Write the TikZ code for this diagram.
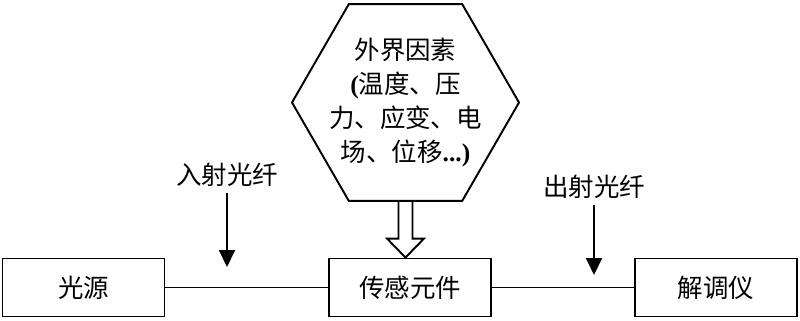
\documentclass[tikz,border=0pt]{standalone}
\usepackage{fontspec}
\setmainfont{Noto Sans CJK SC}
\newfontfamily\latfont{Liberation Serif}
\usepackage{tikz}
\usetikzlibrary{arrows.meta,positioning,calc,shapes.geometric}

\begin{document}
\begin{tikzpicture}[>=Stealth,
  every node/.style={font=\fontsize{14.5pt}{19.3pt}\selectfont},
  unit/.style={draw,line width=1.1pt,minimum width=3.24cm,minimum height=1.16cm,inner sep=0pt},
  fiber/.style={line width=1.1pt,-{Triangle[length=0.34cm,width=0.32cm]}},
  link/.style={line width=0.9pt},
  hollow/.style={line width=1.1pt,line join=miter}]
  \useasboundingbox (0,0) rectangle (16,6.4);
  \node[unit] (src) at (1.67,0.65) {光源};
  \node[unit] (sens) at (8.2,0.65) {传感元件};
  \node[unit] (demod) at (14.32,0.65) {解调仪};
  \node[draw,line width=1.1pt,regular polygon,regular polygon sides=6,minimum size=4.54cm,inner sep=0pt,
    label={[align=center]center:外界因素\\{\latfont\bfseries(}温度、压\\力、应变、电\\场、位移{\latfont\bfseries...)}}] (ext) at (8.11,4.35) {};
  \draw[link] (src) -- (sens);
  \draw[link] (sens) -- (demod);
  % hollow arrow from the hexagon down to the sensor
  \coordinate (tip) at (ext.south |- sens.north);
  \draw[hollow] ($(ext.south)+(-0.14,0)$) |- ($(tip)+(-0.37,0.38)$) -- (tip) -- ($(tip)+(0.37,0.38)$) -| ($(ext.south)+(0.14,0)$);
  % fibre labels
  \node (inlab) at (4.54,2.9) {入射光纤};
  \node (outlab) at (11.88,2.66) {出射光纤};
  \coordinate (inend) at (4.54,1.06);
  \coordinate (outend) at (11.88,0.9);
  \draw[fiber] (inlab.south) -- (inend);
  \draw[fiber] (outlab.south) -- (outend);
\end{tikzpicture}
\end{document}
